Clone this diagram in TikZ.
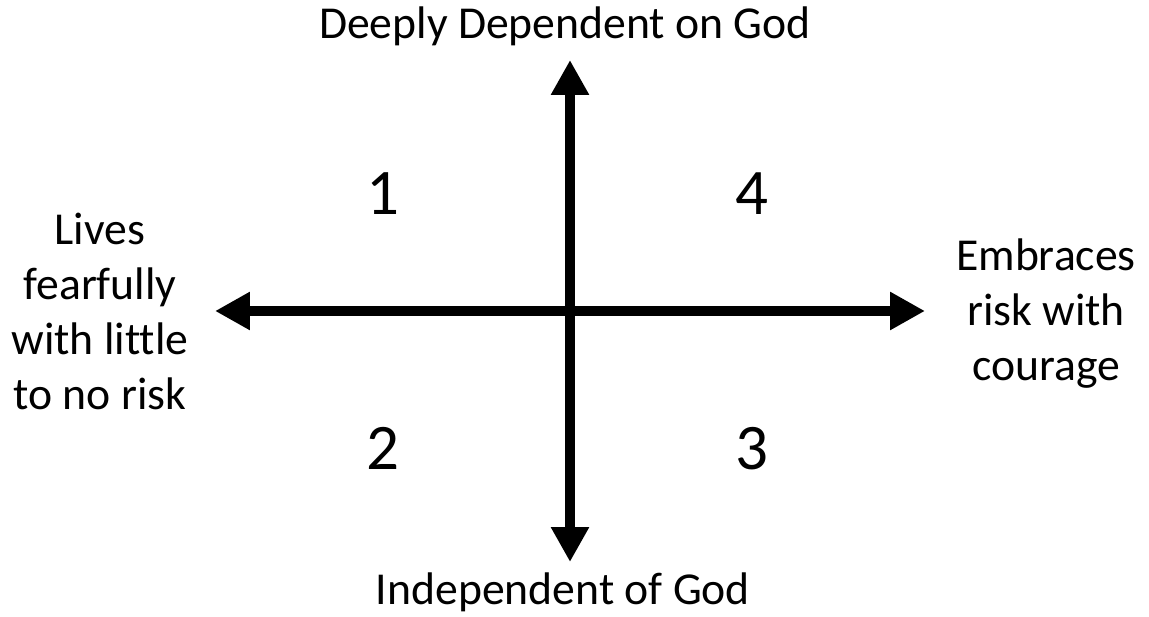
\documentclass[tikz,border=0pt]{standalone}
\usepackage{fontspec}
\setmainfont[Ligatures=NoCommon]{Carlito}
\usetikzlibrary{arrows.meta,positioning}
\tikzset{
  axis/.style={line width=11pt*0.02/0.03528, -{Triangle[length=0.7cm, width=0.72cm]}},
  pole/.style={align=center, font=\fontsize{26}{31.3}\selectfont, inner sep=0pt},
  quad/.style={font=\fontsize{37}{44}\selectfont, inner sep=0pt, anchor=base},
}
\begin{document}
\begin{tikzpicture}[x=0.02cm, y=-0.02cm]
\useasboundingbox (0,0) rectangle (1149,617);
\coordinate (o) at (570,311);
\coordinate (top) at (570,60);
\coordinate (bot) at (570,562);
\coordinate (lft) at (215,311);
\coordinate (rgt) at (925,311);
\draw[axis] (o) -- (top);
\draw[axis] (o) -- (bot);
\draw[axis] (o) -- (lft);
\draw[axis] (o) -- (rgt);
% axis ends
\node[pole, anchor=base] (dep) at (565,39) {Deeply Dependent on God};
\node[pole, anchor=base] (ind) at (563,604) {Independent of God};
\node[pole] (fear) at (100,311) {Lives\\fearfully\\with little\\to no risk};
\node[pole] (bold) at (1046,314) {Embraces\\risk with\\courage};
% quadrants
\node[quad] (q1) at (383,215) {1};
\node[quad] (q4) at (752,215) {4};
\node[quad] (q2) at (383,470) {2};
\node[quad] (q3) at (752,470) {3};
\end{tikzpicture}
\end{document}
